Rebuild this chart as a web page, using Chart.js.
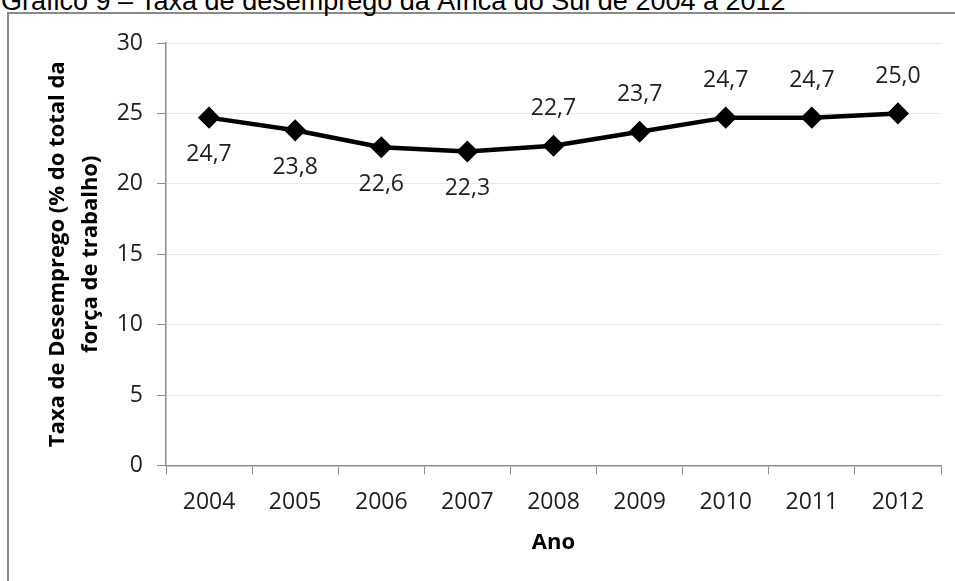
<!DOCTYPE html>
<html lang="pt-BR">
<head>
<meta charset="utf-8">
<title>Taxa de desemprego da África do Sul</title>
<script src="https://cdn.jsdelivr.net/npm/chart.js@4/dist/chart.umd.min.js"></script>
<style>
  html, body { margin: 0; padding: 0; background: #fff; overflow: hidden; }
  body { width: 955px; height: 581px; position: relative; }
  #caption {
    position: absolute; left: 1px; top: -12.5px;
    font-family: "Liberation Sans", Arial, sans-serif; font-size: 27px; line-height: 1;
    color: #000; white-space: nowrap;
  }
  #frame {
    position: absolute; left: 7px; top: 12px; width: 960px; height: 600px;
    border-top: 2px solid #8a8a8a; border-left: 2px solid #8a8a8a;
  }
  #wrap { position: absolute; left: 0; top: 0; width: 955px; height: 581px; }
</style>
</head>
<body>
<div id="frame"></div>
<div id="caption">Gráfico 9 – Taxa de desemprego da África do Sul de 2004 a 2012</div>
<div id="wrap"><canvas id="desemprego"></canvas></div>
<script>
const anos = ['2004', '2005', '2006', '2007', '2008', '2009', '2010', '2011', '2012']
const taxaDesemprego = [24.7, 23.8, 22.6, 22.3, 22.7, 23.7, 24.7, 24.7, 25.0]
const yTicks = [0, 5, 10, 15, 20, 25, 30]

const FONT = '"Open Sans", "DejaVu Sans", sans-serif'
const AXIS_GRAY = '#8c8c8c'

const fmt = v => v.toFixed(1).replace('.', ',')

// value labels: the first points get the label under the marker, the rest above
const valueLabels = {
  id: 'valueLabels',
  afterDatasetsDraw (chart, args, opts) {
    const { ctx } = chart
    const meta = chart.getDatasetMeta(0)
    const values = chart.data.datasets[0].data
    ctx.save()
    ctx.font = `${opts.size}px ${FONT}`
    ctx.fillStyle = opts.color
    ctx.textAlign = 'center'
    ctx.textBaseline = 'middle'
    meta.data.forEach((pt, i) => {
      const dy = i < opts.belowUntil ? opts.offset : -opts.offset
      ctx.fillText(fmt(values[i]), pt.x, pt.y + dy)
    })
    ctx.restore()
  }
}

new Chart(document.getElementById('desemprego'), {
  type: 'line',
  data: {
    labels: anos,
    datasets: [{
      data: taxaDesemprego,
      borderColor: '#000',
      borderWidth: 4.5,
      tension: 0,
      pointStyle: 'rectRot',
      pointRadius: 10,
      pointBackgroundColor: '#000',
      pointBorderColor: '#000',
      pointBorderWidth: 1.5
    }]
  },
  options: {
    responsive: true,
    maintainAspectRatio: false,
    animation: false,
    layout: { padding: { top: 43, right: 14, bottom: 0, left: 0 } },
    plugins: {
      legend: { display: false },
      tooltip: { enabled: false },
      valueLabels: { size: 23, color: '#1e1e1e', offset: 37, belowUntil: 4 }
    },
    scales: {
      x: {
        offset: true,
        afterFit: scale => { scale.height = 115.5 },
        grid: { offset: true, drawOnChartArea: false, tickLength: 9, tickColor: AXIS_GRAY },
        border: { color: AXIS_GRAY, width: 1.5 },
        ticks: { color: '#1e1e1e', padding: 14, font: { family: FONT, size: 23 } },
        title: {
          display: true,
          text: 'Ano',
          color: '#000',
          padding: { top: 0, bottom: 25 },
          font: { family: FONT, size: 22, weight: 'bold' }
        }
      },
      y: {
        min: 0,
        max: 30,
        afterFit: scale => { scale.width = 166 },
        afterBuildTicks: scale => { scale.ticks = yTicks.map(value => ({ value })) },
        grid: { color: '#e8e8e8', lineWidth: 1, tickLength: 9, tickColor: AXIS_GRAY },
        border: { color: AXIS_GRAY, width: 1.5 },
        ticks: { color: '#1e1e1e', padding: 14, font: { family: FONT, size: 23 } },
        title: {
          display: true,
          text: ['Taxa de Desemprego (% do total da', 'força de trabalho)'],
          color: '#000',
          padding: { top: 41, bottom: 0 },
          font: { family: FONT, size: 22, weight: 'bold', lineHeight: 1.5 }
        }
      }
    }
  },
  plugins: [valueLabels]
})
</script>
</body>
</html>
